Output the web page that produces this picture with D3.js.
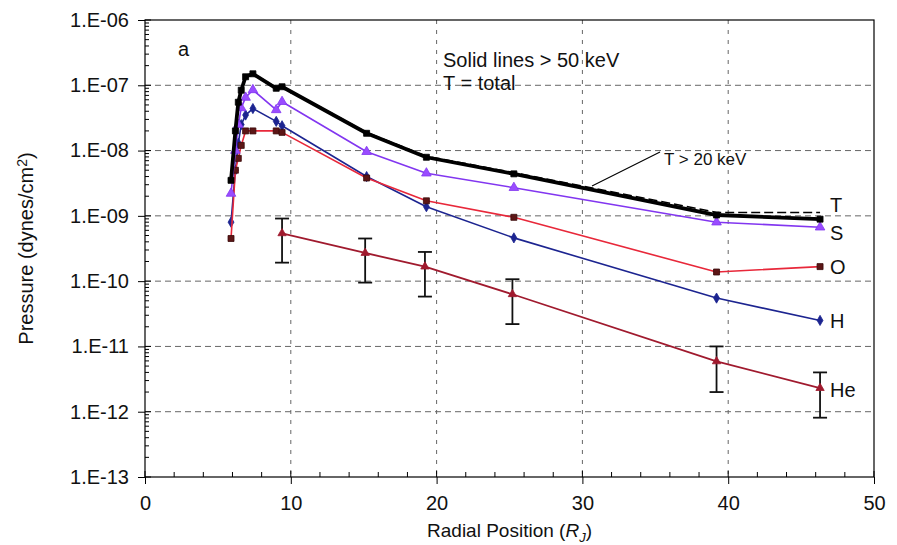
<!DOCTYPE html>
<html>
<head>
<meta charset="utf-8">
<script src="https://cdn.jsdelivr.net/npm/d3@7"></script>
<style>
    body { margin: 0; background: #fff; }
    svg { display: block; font-family: "Liberation Sans", Arial, sans-serif; }
    .grid line { stroke: #666; stroke-width: 1; stroke-dasharray: 6 4; }
    .frame { fill: none; stroke: #000; stroke-width: 1.2; }
    .tick-label { font-size: 20px; fill: #111; }
</style>
</head>
<body>
<svg id="chart" width="897" height="545"></svg>
<script>
// radial positions (R_J) shared by T, S, H, O
const radius = [5.9, 6.2, 6.4, 6.6, 6.9, 7.4, 9.0, 9.4, 15.2, 19.3, 25.3, 39.2, 46.3];
const pressureT = [3.5e-9, 2.0e-8, 5.5e-8, 8.4e-8, 1.35e-7, 1.5e-7, 9.0e-8, 9.5e-8, 1.84e-8, 7.9e-9, 4.4e-9, 1.03e-9, 8.9e-10];
const pressureT20 = [3.6e-9, 2.1e-8, 5.7e-8, 8.7e-8, 1.38e-7, 1.53e-7, 9.2e-8, 9.7e-8, 1.9e-8, 8.2e-9, 4.6e-9, 1.13e-9, 1.13e-9];
const pressureS = [2.2e-9, 1.0e-8, 2.5e-8, 4.5e-8, 6.5e-8, 8.5e-8, 4.2e-8, 5.6e-8, 9.6e-9, 4.5e-9, 2.7e-9, 8.0e-10, 6.7e-10];
const pressureH = [8.0e-10, 5.0e-9, 1.3e-8, 2.5e-8, 3.5e-8, 4.4e-8, 2.8e-8, 2.4e-8, 4.0e-9, 1.38e-9, 4.6e-10, 5.5e-11, 2.5e-11];
const pressureO = [4.5e-10, 5.0e-9, 7.6e-9, 1.2e-8, 2.0e-8, 2.0e-8, 2.0e-8, 1.9e-8, 3.8e-9, 1.7e-9, 9.5e-10, 1.38e-10, 1.67e-10];

// helium with error bars
const radiusHe = [9.4, 15.1, 19.2, 25.2, 39.2, 46.3];
const pressureHe = [5.4e-10, 2.7e-10, 1.67e-10, 6.3e-11, 5.9e-12, 2.3e-12];
const heLow = [1.92e-10, 9.5e-11, 5.8e-11, 2.2e-11, 2.0e-12, 8.1e-13];
const heHigh = [9.1e-10, 4.5e-10, 2.8e-10, 1.07e-10, 1.0e-11, 4.0e-12];

const xTicks = [0, 10, 20, 30, 40, 50];
const yTicks = [1e-13, 1e-12, 1e-11, 1e-10, 1e-9, 1e-8, 1e-7, 1e-6];

const svg = d3.select('#chart');
const m = { left: 145, right: 874, top: 20, bottom: 477 };

const x = d3.scaleLinear().domain([0, 50]).range([m.left, m.right]);
const y = d3.scaleLog().domain([1e-13, 1e-6]).range([m.bottom, m.top]);

const fmtY = d => '1.E-' + String(Math.round(-Math.log10(d))).padStart(2, '0');

// grid
const grid = svg.append('g').attr('class', 'grid');
grid.selectAll('.hg').data(yTicks.slice(1, -1)).enter().append('line')
    .attr('x1', m.left).attr('x2', m.right)
    .attr('y1', d => y(d)).attr('y2', d => y(d));
grid.selectAll('.vg').data(xTicks.slice(1, -1)).enter().append('line')
    .attr('x1', d => x(d)).attr('x2', d => x(d))
    .attr('y1', m.top).attr('y2', m.bottom)
    .style('stroke-dasharray', '4 6');

// axes
const yAxis = d3.axisLeft(y).tickValues(yTicks).tickFormat(fmtY).tickSize(7).tickPadding(9);
const gy = svg.append('g').attr('transform', `translate(${m.left},0)`).call(yAxis);
const xAxis = d3.axisBottom(x).tickValues(xTicks).tickSize(7).tickPadding(12);
const gx = svg.append('g').attr('transform', `translate(0,${m.bottom})`).call(xAxis);
[gx, gy].forEach(g => {
    g.select('.domain').remove();
    g.selectAll('text').attr('class', 'tick-label').style('font-size', '20px').style('fill', '#111')
        .style('font-family', '"Liberation Sans", Arial, sans-serif');
    g.selectAll('line').attr('stroke', '#000');
});

// inner halves of major ticks and minor ticks
const ticks = svg.append('g').attr('stroke', '#000').attr('stroke-width', 1);
ticks.selectAll('.ymaj').data(yTicks).enter().append('line')
    .attr('x1', m.left).attr('x2', m.left + 6).attr('y1', d => y(d)).attr('y2', d => y(d));
const yMinor = [];
yTicks.slice(0, -1).forEach(t => { for (let k = 2; k <= 9; k++) yMinor.push(t * k); });
ticks.selectAll('.ymin').data(yMinor).enter().append('line')
    .attr('x1', m.left).attr('x2', m.left + 4).attr('y1', d => y(d)).attr('y2', d => y(d));
ticks.selectAll('.xmaj').data(xTicks).enter().append('line')
    .attr('x1', d => x(d)).attr('x2', d => x(d)).attr('y1', m.bottom).attr('y2', m.bottom - 6);
ticks.selectAll('.xmin').data(d3.range(2, 50, 2).filter(v => v % 10 !== 0)).enter().append('line')
    .attr('x1', d => x(d)).attr('x2', d => x(d)).attr('y1', m.bottom).attr('y2', m.bottom - 5);

svg.append('rect').attr('class', 'frame')
    .attr('x', m.left).attr('y', m.top).attr('width', m.right - m.left).attr('height', m.bottom - m.top);

// axis titles
svg.append('text')
    .attr('transform', `translate(33,${(m.top + m.bottom) / 2}) rotate(-90)`)
    .attr('text-anchor', 'middle').style('font-size', '20px').style('fill', '#111')
    .call(t => {
        t.append('tspan').text('Pressure (dynes/cm');
        t.append('tspan').text('2').attr('dy', -6).style('font-size', '14px');
        t.append('tspan').text(')').attr('dy', 6);
    });
svg.append('text')
    .attr('x', (m.left + m.right) / 2).attr('y', 537)
    .attr('text-anchor', 'middle').style('font-size', '19px').style('fill', '#111')
    .call(t => {
        t.append('tspan').text('Radial Position (');
        t.append('tspan').text('R').style('font-style', 'italic');
        t.append('tspan').text('J').attr('dy', 5).style('font-size', '13px').style('font-style', 'italic');
        t.append('tspan').text(')').attr('dy', -5);
    });

// series
const line = d3.line().x(d => x(d[0])).y(d => y(d[1]));
const zip = (xs, ys) => xs.map((v, i) => [v, ys[i]]);

const series = [
    { name: 'He', xs: radiusHe, ys: pressureHe, color: '#a01a2e', width: 1.8, symbol: d3.symbolTriangle, size: 30, fill: '#a01a2e' },
    { name: 'H', xs: radius, ys: pressureH, color: '#1c2490', width: 1.6, symbol: d3.symbolDiamond, size: 30, fill: '#1c2490' },
    { name: 'O', xs: radius, ys: pressureO, color: '#e8283a', width: 1.6, symbol: d3.symbolSquare, size: 36, fill: '#5c1616' },
    { name: 'S', xs: radius, ys: pressureS, color: '#8236f0', width: 1.6, symbol: d3.symbolTriangle, size: 40, fill: '#9a4cff' },
    { name: 'T', xs: radius, ys: pressureT, color: '#000', width: 3.8, symbol: d3.symbolSquare, size: 36, fill: '#000' },
];

// error bars for He
const eb = svg.append('g').attr('stroke', '#111').attr('stroke-width', 1.8);
radiusHe.forEach((r, i) => {
    eb.append('line').attr('x1', x(r)).attr('x2', x(r)).attr('y1', y(heLow[i])).attr('y2', y(heHigh[i]));
    eb.append('line').attr('x1', x(r) - 7).attr('x2', x(r) + 7).attr('y1', y(heLow[i])).attr('y2', y(heLow[i]));
    eb.append('line').attr('x1', x(r) - 7).attr('x2', x(r) + 7).attr('y1', y(heHigh[i])).attr('y2', y(heHigh[i]));
});

// T > 20 keV dashed
svg.append('path').datum(zip(radius, pressureT20))
    .attr('d', line).attr('fill', 'none').attr('stroke', '#000')
    .attr('stroke-width', 1.5).attr('stroke-dasharray', '9 4');

series.forEach(s => {
    const pts = zip(s.xs, s.ys);
    svg.append('path').datum(pts).attr('d', line)
        .attr('fill', 'none').attr('stroke', s.color).attr('stroke-width', s.width)
        .attr('stroke-linejoin', 'round');
    svg.append('g').selectAll('path').data(pts).enter().append('path')
        .attr('d', d3.symbol().type(s.symbol).size(s.size))
        .attr('transform', d => `translate(${x(d[0])},${y(d[1])})`)
        .attr('fill', s.fill).attr('stroke', s.name === 'O' ? '#3a0a0a' : s.color).attr('stroke-width', 0.8);
});

// end labels
const labelOffset = { T: -8, S: 6, O: 0, H: 0, He: 2 };
const labelValue = { T: pressureT20[pressureT20.length - 1], S: pressureS[12], O: pressureO[12], H: pressureH[12], He: pressureHe[5] };
Object.keys(labelOffset).forEach(k => {
    svg.append('text')
        .attr('x', x(46.3) + 10).attr('y', y(labelValue[k]) + labelOffset[k])
        .attr('dy', '0.36em').style('font-size', '20px').style('fill', '#111').text(k);
});

// annotations
svg.append('text').attr('x', 178).attr('y', 56).style('font-size', '20px').style('fill', '#111').text('a');
svg.append('text').attr('x', 443).attr('y', 67).style('font-size', '20px').style('fill', '#111').text('Solid lines > 50 keV');
svg.append('text').attr('x', 443).attr('y', 90).style('font-size', '20px').style('fill', '#111').text('T = total');
svg.append('text').attr('x', 664).attr('y', 165).style('font-size', '17px').style('fill', '#111').text('T > 20 keV');
svg.append('line').attr('x1', 660).attr('y1', 152).attr('x2', 592).attr('y2', 186)
    .attr('stroke', '#000').attr('stroke-width', 1.2);
</script>
</body>
</html>
